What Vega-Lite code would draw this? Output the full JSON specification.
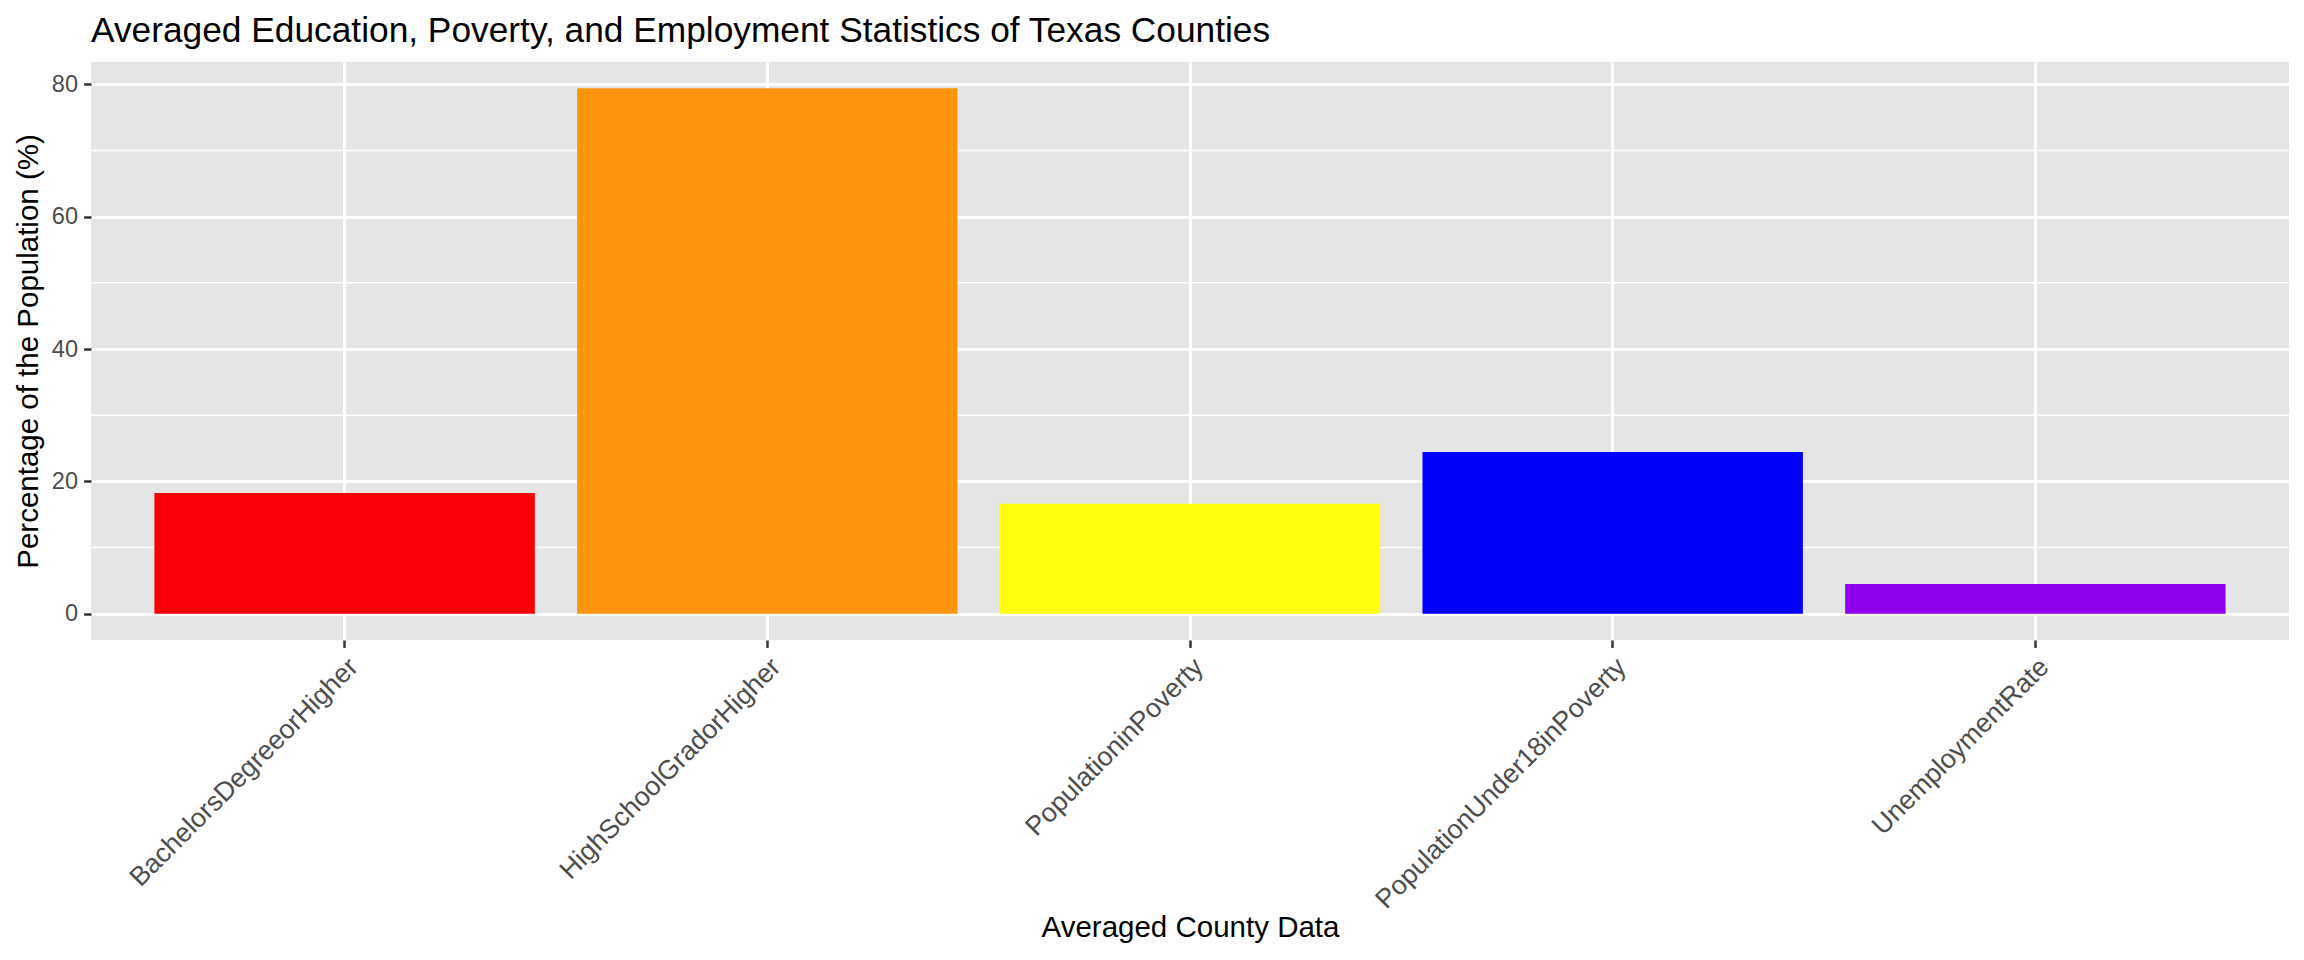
{
  "$schema": "https://vega.github.io/schema/vega-lite/v6.json",
  "width": 2198,
  "height": 578,
  "autosize": {"type": "none"},
  "padding": {"left": 91, "top": 62, "right": 15, "bottom": 320},
  "background": "white",
  "title": {
    "text": "Averaged Education, Poverty, and Employment Statistics of Texas Counties",
    "anchor": "start",
    "frame": "group",
    "font": "Liberation Sans",
    "fontSize": 35.3,
    "fontWeight": "normal",
    "color": "black",
    "offset": 13
  },
  "config": {
    "view": {"fill": "#E5E5E5", "stroke": null},
    "axis": {
      "labelFont": "Liberation Sans",
      "titleFont": "Liberation Sans",
      "labelFontSize": 23.6,
      "titleFontSize": 29.5,
      "titleFontWeight": "normal",
      "labelColor": "#4D4D4D",
      "titleColor": "black",
      "tickColor": "#333333",
      "tickSize": 7.4,
      "tickWidth": 2.5,
      "domain": false,
      "grid": true,
      "gridColor": "white",
      "gridWidth": 3,
      "labelPadding": 6,
      "labelLimit": 0
    }
  },
  "datasets": {
    "bars": [
      {"category": "BachelorsDegreeorHigher", "value": 18.23},
      {"category": "HighSchoolGradorHigher", "value": 79.4},
      {"category": "PopulationinPoverty", "value": 16.61},
      {"category": "PopulationUnder18inPoverty", "value": 24.42},
      {"category": "UnemploymentRate", "value": 4.48}
    ],
    "minor": [
      {"value": 10},
      {"value": 30},
      {"value": 50},
      {"value": 70}
    ]
  },
  "encoding": {
    "y": {
      "field": "value",
      "type": "quantitative",
      "scale": {"domain": [-3.97, 83.37], "nice": false, "zero": false},
      "axis": {
        "title": "Percentage of the Population (%)",
        "values": [0, 20, 40, 60, 80],
        "titlePadding": 8
      }
    }
  },
  "layer": [
    {
      "data": {"name": "minor"},
      "mark": {"type": "rule", "color": "white", "strokeWidth": 1.5}
    },
    {
      "data": {"name": "bars"},
      "mark": {"type": "bar"},
      "encoding": {
        "x": {
          "field": "category",
          "type": "nominal",
          "sort": null,
          "scale": {"paddingInner": 0.1, "paddingOuter": 0.15},
          "axis": {
            "title": "Averaged County Data",
            "labelAngle": -45,
            "labelAlign": "right",
            "labelBaseline": "top",
            "labelFontSize": 26.8,
            "bandPosition": 0.5,
            "titlePadding": 73
          }
        },
        "y2": {"datum": 0},
        "color": {
          "field": "category",
          "type": "nominal",
          "legend": null,
          "scale": {
            "domain": ["BachelorsDegreeorHigher", "HighSchoolGradorHigher", "PopulationinPoverty", "PopulationUnder18inPoverty", "UnemploymentRate"],
            "range": ["#FB0007", "#FD9410", "#FFFF0E", "#0000FE", "#8E00EB"]
          }
        }
      }
    }
  ]
}
